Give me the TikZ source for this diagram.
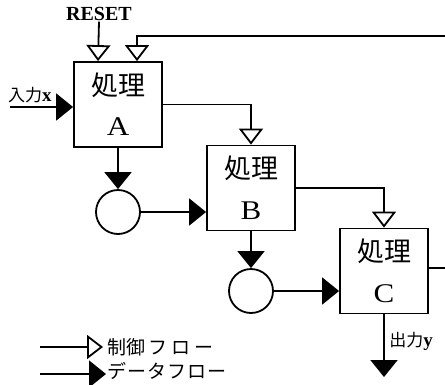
\documentclass[tikz,border=0pt]{standalone}
\usepackage{fontspec}
\setmainfont{Liberation Serif}
\newfontfamily\jp{Noto Sans CJK JP}
\usetikzlibrary{arrows.meta}
\begin{document}
\begin{tikzpicture}[x=1pt,y=-1pt,line width=1.8pt,
  proc/.style={draw,minimum width=88pt,minimum height=85pt,inner sep=0pt},
  buf/.style={draw,circle,minimum size=44pt,inner sep=0pt},
  ctrl/.style={-{Triangle[open,length=16pt,width=24pt]}},
  data/.style={-{Triangle[length=17pt,width=27pt]}},
  jlbl/.style={font=\jp\fontsize{27}{27}\selectfont,inner sep=0pt},
  llbl/.style={font=\fontsize{27}{27}\selectfont,inner sep=0pt,xscale=1.15},
  small/.style={font=\jp\fontsize{17}{17}\selectfont,inner sep=0pt},
  legtxt/.style={font=\jp\fontsize{19}{19}\selectfont,inner sep=0pt,anchor=west}]
\useasboundingbox (0,0) rectangle (445,384);
% boxes
\node[proc] (A) at (118,104.5) {};
\node[proc] (B) at (251,188) {};
\node[proc] (C) at (384,271) {};
\foreach \n/\l in {A/A,B/B,C/C}{
  \node[jlbl] (\n j) at ([yshift=-24pt]\n.north) {処理};
  \node[llbl] (\n l) at ([yshift=21pt]\n.south) {\l};
}
% buffers
\node[buf] (c1) at (118,212) {};
\node[buf] (c2) at (251,291) {};
% texts
\node[font=\bfseries\fontsize{20}{20}\selectfont,inner sep=0pt] (reset) at (99,14) {RESET};
\node[small] (xin) at (30,95) {入力\textbf{\rmfamily\fontsize{19}{19}\selectfont x}};
\node[small] (yout) at (411,341) {出力\textbf{\rmfamily\fontsize{19}{19}\selectfont y}};
% coordinates
\coordinate (fbR) at (445,36);
\coordinate (cR) at (445,268);
\coordinate (xs) at (10,107);
\coordinate (ye) at (384,377);
% connectors
\draw[ctrl] (reset.south) -- ([xshift=-20pt]A.north);
\draw[ctrl] (fbR) -| ([xshift=19pt]A.north);
\draw[data] (xs) -- (A.west |- xs);
\draw[ctrl] (A.east) -| (B.north);
\draw[data] (A.south) -- (c1.north);
\draw[data] (c1.east) -- (B.west |- c1.east);
\draw[ctrl] (B.east) -| (C.north);
\draw[data] (B.south) -- (c2.north);
\draw[data] (c2.east) -- (C.west |- c2.east);
\draw (C.east |- cR) -- (cR);
\draw[data] (C.south) -- (ye);
% legend
\coordinate (l1s) at (40,347);
\coordinate (l1e) at (103,347);
\coordinate (l2s) at (40,374);
\coordinate (l2e) at (106,374);
\draw[ctrl] (l1s) -- (l1e);
\draw[data] (l2s) -- (l2e);
\node[legtxt] (lt1) at (107,347) {制御\kern3pt フ\kern4pt ロ\kern4pt ー};
\node[legtxt] (lt2) at (107,371) {デ\kern1pt ー\kern1pt タ\kern1pt フ\kern1pt ロ\kern1pt ー};
\end{tikzpicture}
\end{document}
